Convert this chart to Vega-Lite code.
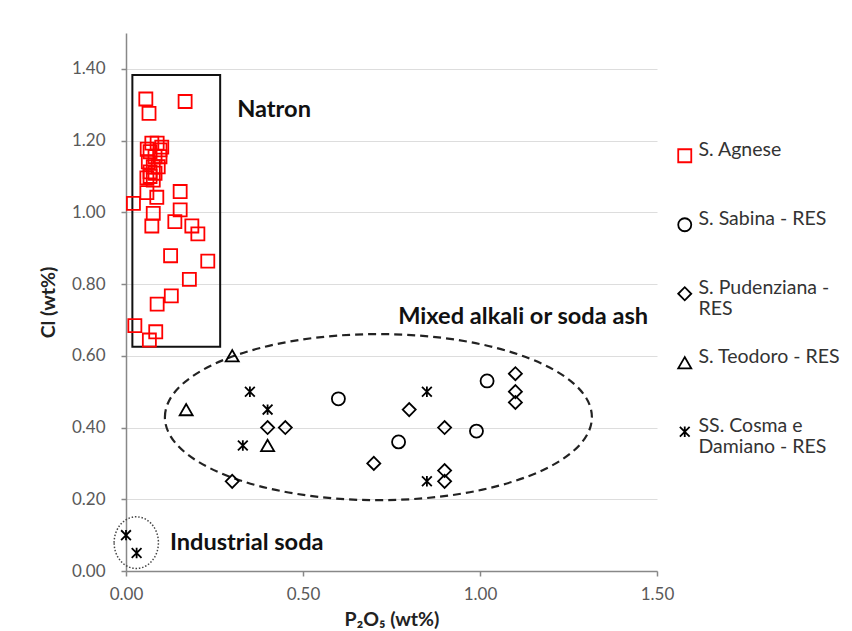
{
  "$schema": "https://vega.github.io/schema/vega-lite/v6.json",
  "width": 531,
  "height": 538,
  "autosize": "none",
  "padding": {"left": 126, "top": 33, "right": 195, "bottom": 60},
  "background": "white",
  "config": {
    "view": {"stroke": null},
    "font": "Lato",
    "axis": {
      "labelFont": "Lato", "labelFontSize": 17, "labelColor": "#595959",
      "domainColor": "#888888", "tickColor": "#888888", "tickSize": 5, "domainWidth": 1.5, "tickWidth": 1.5,
      "titleFont": "Lato", "titleFontSize": 19.5, "titleFontWeight": "bold", "titleColor": "#222222"
    }
  },
  "datasets": {
    "points": [
      {"site": "S. Agnese", "P2O5": 0.056, "Cl": 1.316},
      {"site": "S. Agnese", "P2O5": 0.167, "Cl": 1.309},
      {"site": "S. Agnese", "P2O5": 0.065, "Cl": 1.276},
      {"site": "S. Agnese", "P2O5": 0.088, "Cl": 1.193},
      {"site": "S. Agnese", "P2O5": 0.060, "Cl": 1.176},
      {"site": "S. Agnese", "P2O5": 0.101, "Cl": 1.182},
      {"site": "S. Agnese", "P2O5": 0.096, "Cl": 1.155},
      {"site": "S. Agnese", "P2O5": 0.073, "Cl": 1.193},
      {"site": "S. Agnese", "P2O5": 0.096, "Cl": 1.174},
      {"site": "S. Agnese", "P2O5": 0.068, "Cl": 1.169},
      {"site": "S. Agnese", "P2O5": 0.082, "Cl": 1.155},
      {"site": "S. Agnese", "P2O5": 0.063, "Cl": 1.141},
      {"site": "S. Agnese", "P2O5": 0.077, "Cl": 1.127},
      {"site": "S. Agnese", "P2O5": 0.091, "Cl": 1.127},
      {"site": "S. Agnese", "P2O5": 0.068, "Cl": 1.113},
      {"site": "S. Agnese", "P2O5": 0.082, "Cl": 1.109},
      {"site": "S. Agnese", "P2O5": 0.068, "Cl": 1.100},
      {"site": "S. Agnese", "P2O5": 0.077, "Cl": 1.090},
      {"site": "S. Agnese", "P2O5": 0.059, "Cl": 1.096},
      {"site": "S. Agnese", "P2O5": 0.153, "Cl": 1.058},
      {"site": "S. Agnese", "P2O5": 0.021, "Cl": 1.025},
      {"site": "S. Agnese", "P2O5": 0.059, "Cl": 1.055},
      {"site": "S. Agnese", "P2O5": 0.087, "Cl": 1.042},
      {"site": "S. Agnese", "P2O5": 0.153, "Cl": 1.007},
      {"site": "S. Agnese", "P2O5": 0.077, "Cl": 0.997},
      {"site": "S. Agnese", "P2O5": 0.138, "Cl": 0.974},
      {"site": "S. Agnese", "P2O5": 0.073, "Cl": 0.962},
      {"site": "S. Agnese", "P2O5": 0.186, "Cl": 0.962},
      {"site": "S. Agnese", "P2O5": 0.203, "Cl": 0.940},
      {"site": "S. Agnese", "P2O5": 0.126, "Cl": 0.879},
      {"site": "S. Agnese", "P2O5": 0.231, "Cl": 0.864},
      {"site": "S. Agnese", "P2O5": 0.179, "Cl": 0.813},
      {"site": "S. Agnese", "P2O5": 0.128, "Cl": 0.767},
      {"site": "S. Agnese", "P2O5": 0.088, "Cl": 0.744},
      {"site": "S. Agnese", "P2O5": 0.025, "Cl": 0.684},
      {"site": "S. Agnese", "P2O5": 0.084, "Cl": 0.667},
      {"site": "S. Agnese", "P2O5": 0.066, "Cl": 0.644},
      {"site": "S. Sabina - RES", "P2O5": 0.60, "Cl": 0.48},
      {"site": "S. Sabina - RES", "P2O5": 0.77, "Cl": 0.36},
      {"site": "S. Sabina - RES", "P2O5": 0.99, "Cl": 0.39},
      {"site": "S. Sabina - RES", "P2O5": 1.02, "Cl": 0.53},
      {"site": "S. Pudenziana - RES", "P2O5": 0.40, "Cl": 0.40},
      {"site": "S. Pudenziana - RES", "P2O5": 0.45, "Cl": 0.40},
      {"site": "S. Pudenziana - RES", "P2O5": 0.30, "Cl": 0.25},
      {"site": "S. Pudenziana - RES", "P2O5": 0.70, "Cl": 0.30},
      {"site": "S. Pudenziana - RES", "P2O5": 0.80, "Cl": 0.45},
      {"site": "S. Pudenziana - RES", "P2O5": 0.90, "Cl": 0.40},
      {"site": "S. Pudenziana - RES", "P2O5": 0.90, "Cl": 0.28},
      {"site": "S. Pudenziana - RES", "P2O5": 0.90, "Cl": 0.25},
      {"site": "S. Pudenziana - RES", "P2O5": 1.10, "Cl": 0.55},
      {"site": "S. Pudenziana - RES", "P2O5": 1.10, "Cl": 0.50},
      {"site": "S. Pudenziana - RES", "P2O5": 1.10, "Cl": 0.47},
      {"site": "S. Teodoro - RES", "P2O5": 0.30, "Cl": 0.60},
      {"site": "S. Teodoro - RES", "P2O5": 0.17, "Cl": 0.45},
      {"site": "S. Teodoro - RES", "P2O5": 0.40, "Cl": 0.35},
      {"site": "SS. Cosma e Damiano - RES", "P2O5": 0.35, "Cl": 0.50},
      {"site": "SS. Cosma e Damiano - RES", "P2O5": 0.40, "Cl": 0.45},
      {"site": "SS. Cosma e Damiano - RES", "P2O5": 0.33, "Cl": 0.35},
      {"site": "SS. Cosma e Damiano - RES", "P2O5": 0.85, "Cl": 0.50},
      {"site": "SS. Cosma e Damiano - RES", "P2O5": 0.85, "Cl": 0.25},
      {"site": "SS. Cosma e Damiano - RES", "P2O5": 0.00, "Cl": 0.10},
      {"site": "SS. Cosma e Damiano - RES", "P2O5": 0.03, "Cl": 0.05}
    ],
    "box": [{"P2O5": 0.018, "P2O5_end": 0.266, "Cl": 0.625, "Cl_end": 1.383}],
    "mixed": [{"P2O5": 0.713, "Cl": 0.429}],
    "industrial": [{"P2O5": 0.029, "Cl": 0.079}],
    "labels": [
      {"label": "Natron", "P2O5": 0.314, "Cl": 1.286},
      {"label": "Mixed alkali or soda ash", "P2O5": 0.769, "Cl": 0.708},
      {"label": "Industrial soda", "P2O5": 0.124, "Cl": 0.077}
    ]
  },
  "encoding": {
    "x": {
      "field": "P2O5", "type": "quantitative", "title": "P₂O₅ (wt%)",
      "scale": {"domain": [0, 1.5], "nice": false, "zero": false},
      "axis": {"values": [0, 0.5, 1, 1.5], "format": ".2f", "grid": false, "labelFlush": false, "labelPadding": 10, "titlePadding": 8}
    },
    "y": {
      "field": "Cl", "type": "quantitative", "title": "Cl (wt%)",
      "scale": {"domain": [0, 1.5], "nice": false, "zero": false},
      "axis": {"values": [0, 0.2, 0.4, 0.6, 0.8, 1.0, 1.2, 1.4], "format": ".2f", "grid": true, "gridColor": "#dddddd", "gridWidth": 1.2, "labelFlush": false, "labelPadding": 16, "titlePadding": 0, "titleX": -68, "titleBaseline": "bottom"}
    }
  },
  "layer": [
    {
      "data": {"name": "box"},
      "mark": {"type": "rect", "fill": null, "fillOpacity": 0, "stroke": "#111111", "strokeWidth": 2},
      "encoding": {"x2": {"field": "P2O5_end"}, "y2": {"field": "Cl_end"}}
    },
    {
      "data": {"name": "mixed"},
      "mark": {"type": "point", "filled": false, "shape": "M -1 0 A 1 0.389 0 1 1 1 0 A 1 0.389 0 1 1 -1 0 Z", "size": 182329, "stroke": "#222222", "strokeWidth": 2.2, "strokeDash": [8, 5], "opacity": 1}
    },
    {
      "data": {"name": "industrial"},
      "mark": {"type": "point", "filled": false, "shape": "M -1 0 A 1 1.167 0 1 1 1 0 A 1 1.167 0 1 1 -1 0 Z", "size": 1962, "stroke": "#444444", "strokeWidth": 1.5, "strokeDash": [1.5, 1.8], "opacity": 1}
    },
    {
      "data": {"name": "labels"},
      "mark": {"type": "text", "align": "left", "baseline": "middle", "font": "Lato", "fontSize": 23.6, "fontWeight": "bold", "color": "#111111"},
      "encoding": {"text": {"field": "label"}}
    },
    {
      "data": {"name": "points"},
      "mark": {"type": "point", "filled": false, "size": 170, "strokeWidth": 1.8, "opacity": 1},
      "encoding": {
        "shape": {
          "field": "site", "type": "nominal",
          "scale": {
            "domain": ["S. Agnese", "S. Sabina - RES", "S. Pudenziana - RES", "S. Teodoro - RES", "SS. Cosma e Damiano - RES"],
            "range": ["square", "circle", "diamond", "triangle-up", "M -0.75 -0.75 L 0.75 0.75 M -0.75 0.75 L 0.75 -0.75 M 0 -0.8 L 0 0.8"]
          },
          "legend": {
            "title": null, "orient": "none", "legendX": 549, "legendY": 113, "padding": 0,
            "symbolSize": 170, "symbolStrokeWidth": 1.8,
            "labelFont": "Lato", "labelFontSize": 19.5, "labelColor": "#333333", "labelOffset": 4,
            "labelLimit": 300, "labelBaseline": "alphabetic", "labelLineHeight": 25,
            "labelExpr": "datum.label == 'S. Pudenziana - RES' ? ['S. Pudenziana -', 'RES'] : datum.label == 'SS. Cosma e Damiano - RES' ? ['SS. Cosma e', 'Damiano - RES'] : datum.label",
            "gridAlign": "all", "rowPadding": 27,
            "encode": {"labels": {"update": {"dy": {"value": 6}}}}
          }
        },
        "color": {
          "field": "site", "type": "nominal",
          "scale": {
            "domain": ["S. Agnese", "S. Sabina - RES", "S. Pudenziana - RES", "S. Teodoro - RES", "SS. Cosma e Damiano - RES"],
            "range": ["#ff0000", "#000000", "#000000", "#000000", "#000000"]
          }
        }
      }
    }
  ]
}
